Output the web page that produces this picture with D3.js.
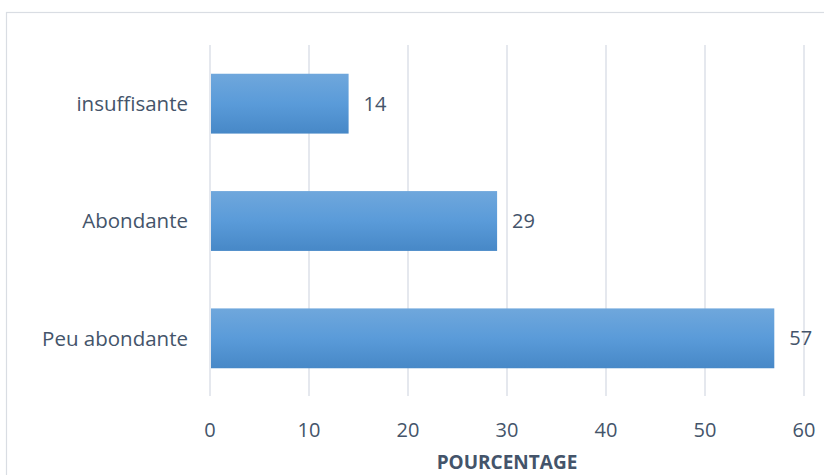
<!DOCTYPE html>
<html><head><meta charset="utf-8">
<script src="https://cdn.jsdelivr.net/npm/d3@7"></script>
<style>body{margin:0;background:#fff}svg{display:block}text{font-family:"Open Sans",sans-serif}</style>
</head><body><svg id="c" width="824" height="475"></svg>
<script>
const categories = ["insuffisante","Abondante","Peu abondante"];
const values = [14, 29, 57];
const ticks = [0,10,20,30,40,50,60];
const axisTitle = "POURCENTAGE";

const svg = d3.select("#c");
const x = d3.scaleLinear().domain([0,60]).range([210, 804]);
const y = d3.scaleBand().domain(categories).range([45, 397]).paddingInner(0.49).paddingOuter(0.245);

const defs = svg.append("defs");
const g = defs.append("linearGradient").attr("id","bg").attr("x1",0).attr("y1",0).attr("x2",0).attr("y2",1);
g.append("stop").attr("offset","0%").attr("stop-color","#6fa7dc");
g.append("stop").attr("offset","50%").attr("stop-color","#5a9bd9");
g.append("stop").attr("offset","100%").attr("stop-color","#4788c7");

svg.append("rect").attr("x",6.5).attr("y",12.5).attr("width",830).attr("height",480)
  .attr("fill","none").attr("stroke","#d9dde3").attr("stroke-width",1.2);

svg.append("g").selectAll("line").data(ticks).join("line")
  .attr("x1",d=>x(d)).attr("x2",d=>x(d)).attr("y1",45).attr("y2",396)
  .attr("stroke","#dde1e8").attr("stroke-width",1.5);

svg.append("g").selectAll("rect").data(values).join("rect")
  .attr("x",x(0)+1).attr("y",(d,i)=>y(categories[i]))
  .attr("width",d=>x(d)-x(0)-1).attr("height",y.bandwidth())
  .attr("fill","url(#bg)");

svg.append("g").selectAll("text").data(values).join("text")
  .attr("x",d=>x(d)+15).attr("y",(d,i)=>y(categories[i])+y.bandwidth()/2)
  .attr("dy","0.35em").attr("font-size",20).attr("fill","#44546a").text(d=>d);

svg.append("g").selectAll("text").data(categories).join("text")
  .attr("x",188).attr("y",d=>y(d)+y.bandwidth()/2).attr("dy","0.35em")
  .attr("text-anchor","end").attr("font-size",20.5).attr("fill","#44546a").text(d=>d);

svg.append("g").selectAll("text").data(ticks).join("text")
  .attr("x",d=>x(d)).attr("y",430).attr("dy","0.35em").attr("text-anchor","middle")
  .attr("font-size",20).attr("fill","#44546a").text(d=>d);

svg.append("text").attr("x",(x(0)+x(60))/2).attr("y",462).attr("dy","0.35em")
  .attr("text-anchor","middle").attr("font-size",19).attr("font-weight","bold")
  .attr("fill","#44546a").text(axisTitle);
</script></body></html>
